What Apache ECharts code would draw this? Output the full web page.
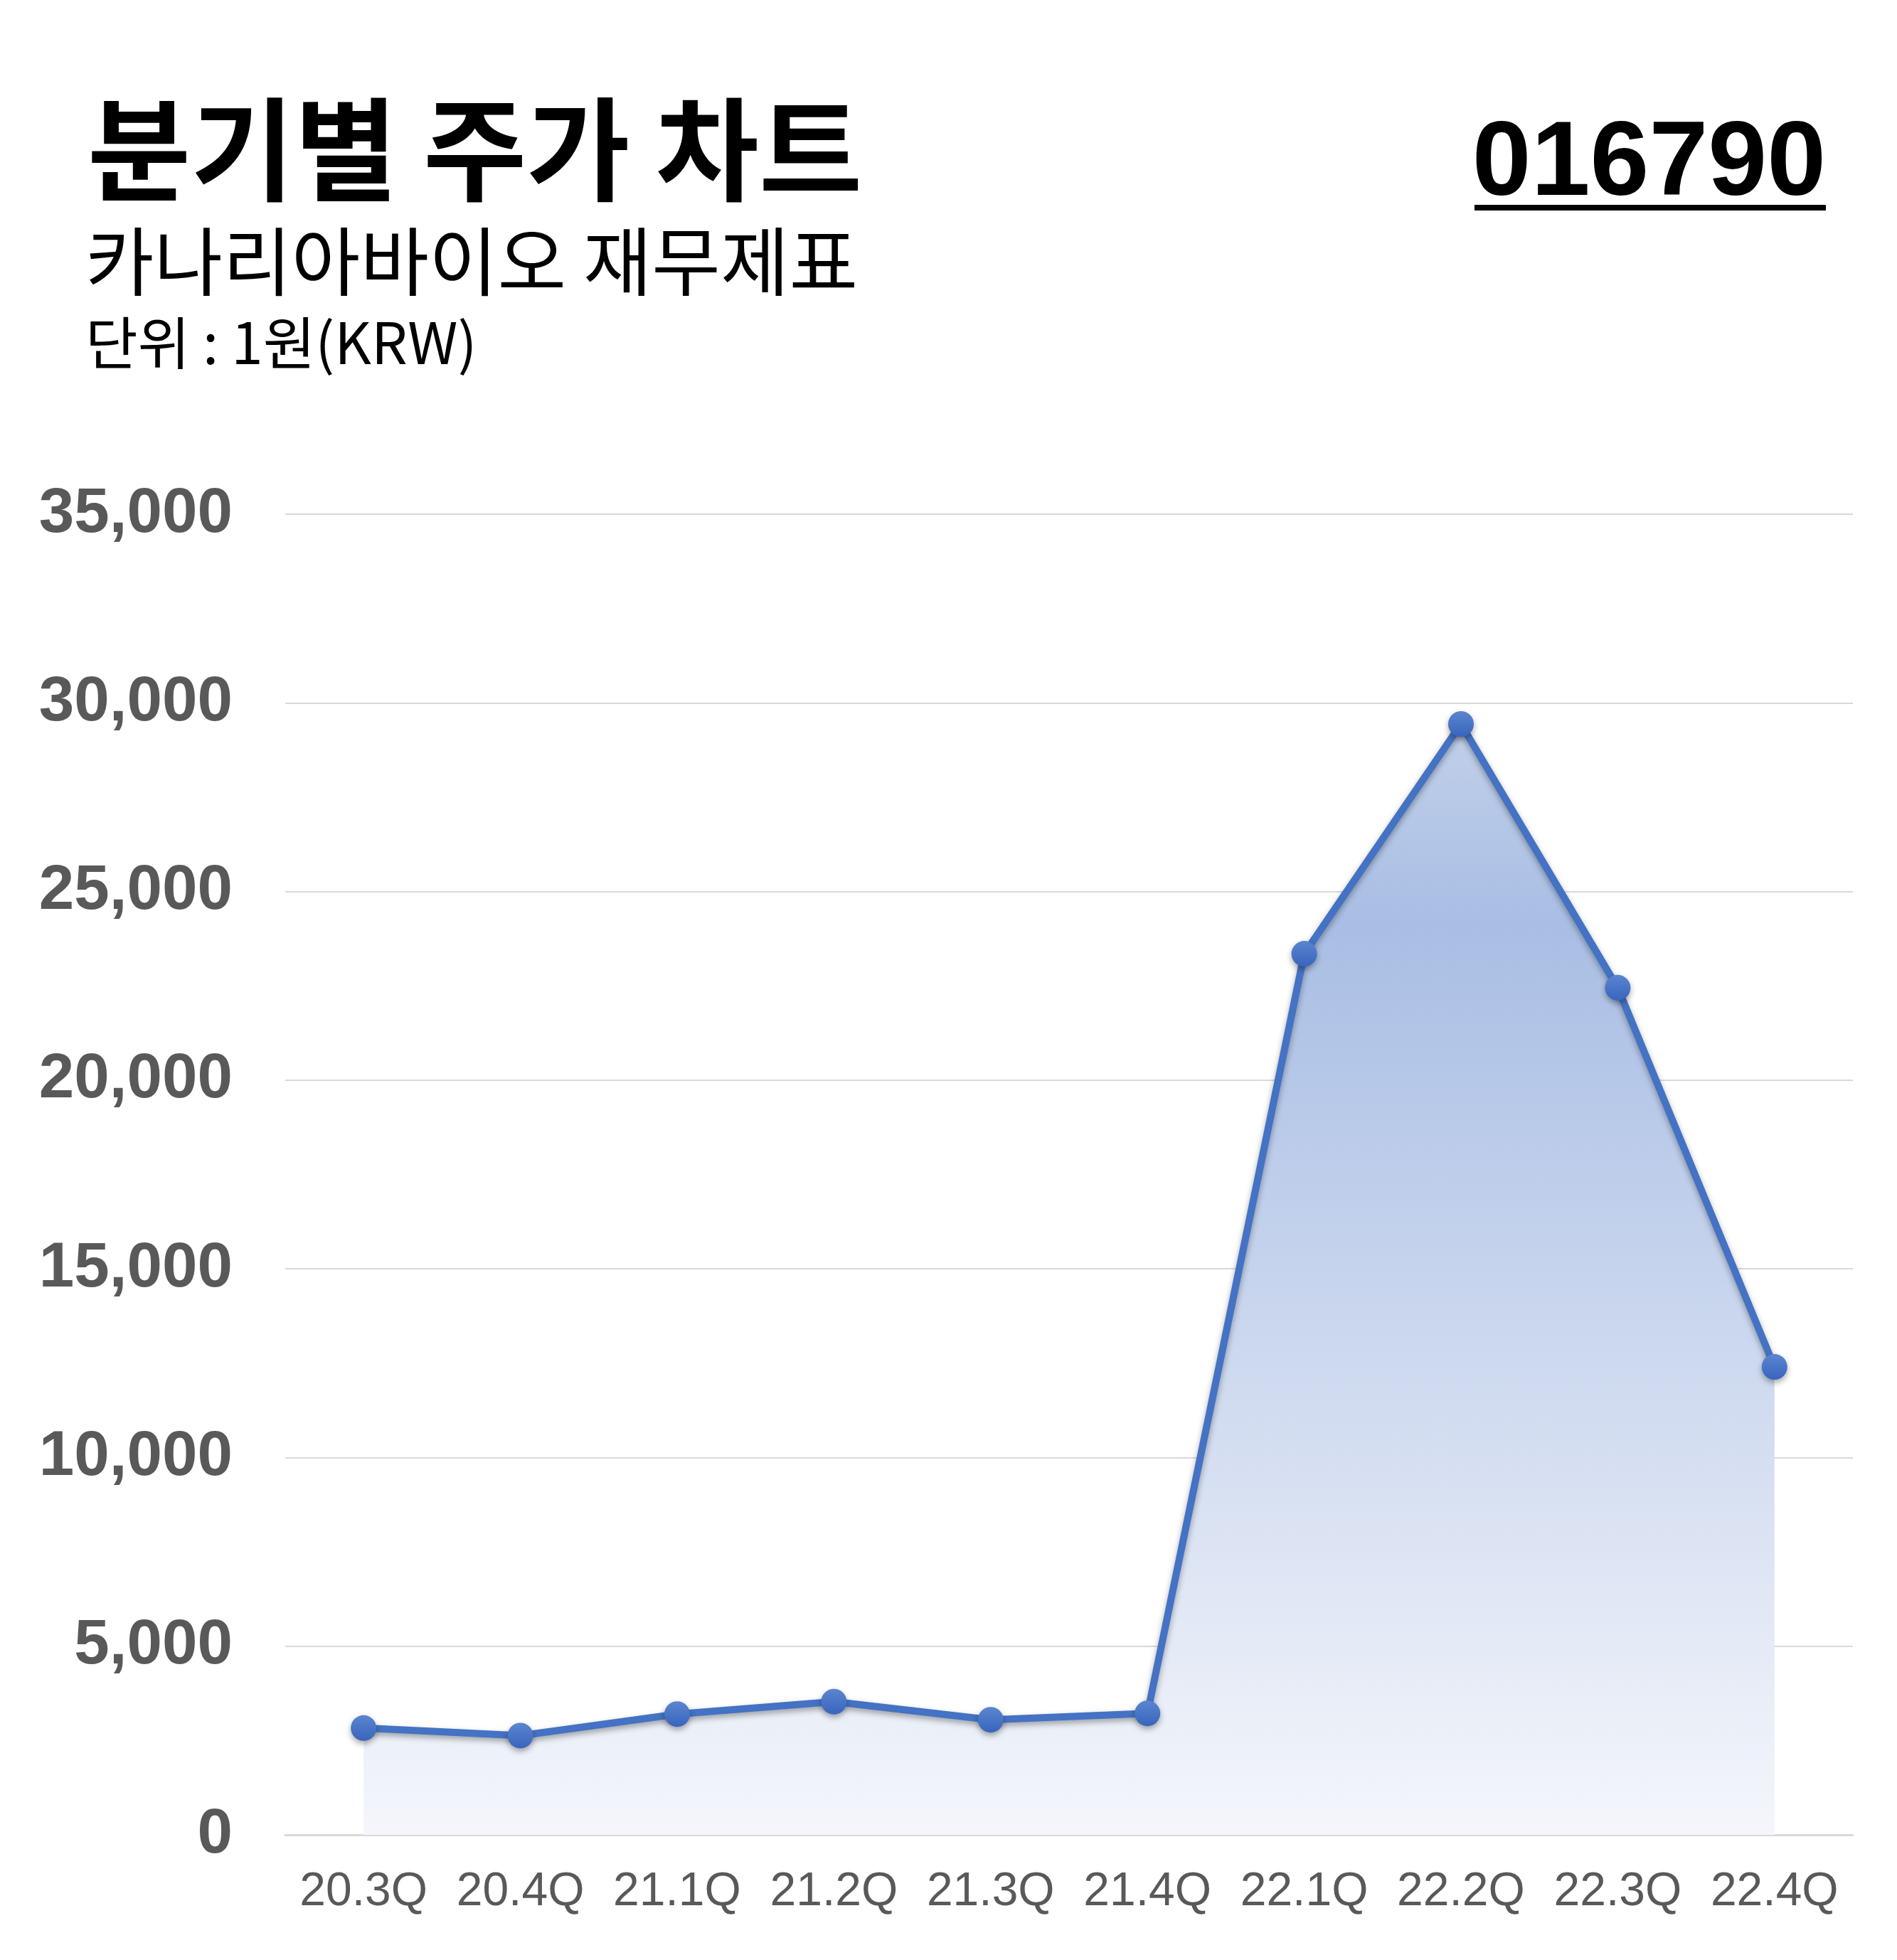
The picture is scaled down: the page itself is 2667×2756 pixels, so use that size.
<!DOCTYPE html>
<html>
<head>
<meta charset="utf-8">
<script src="https://cdn.jsdelivr.net/npm/echarts@6/dist/echarts.min.js"></script>
<style>
html,body{margin:0;padding:0;background:#fff;}
#chart{width:2667px;height:2756px;}
</style>
</head>
<body>
<div id="chart"></div>
<script>
const categories = ['20.3Q','20.4Q','21.1Q','21.2Q','21.3Q','21.4Q','22.1Q','22.2Q','22.3Q','22.4Q'];
const prices = [2830, 2630, 3200, 3530, 3050, 3220, 23350, 29440, 22450, 12400];
const yTicks = { min: 0, max: 35000, interval: 5000 };
const titleText = '분기별 주가 차트';
const subtitleText = '카나리아바이오 재무제표';
const unitText = '단위 : 1원(KRW)';
const codeText = '016790';

const chart = echarts.init(document.getElementById('chart'), null, {renderer:'canvas', devicePixelRatio:1});
const KR = '"Noto Sans CJK KR", "Noto Sans", sans-serif';
const LAT = '"Liberation Sans", Arial, sans-serif';

chart.setOption({
  backgroundColor: '#ffffff',
  animation: false,
  title: [
    { text: titleText, left: 118, top: 126, textStyle: { fontFamily: KR, fontSize: 158, fontWeight: 'bold', color: '#000' } },
    { text: subtitleText, left: 115, top: 310, textStyle: { fontFamily: KR, fontSize: 105, fontWeight: 'normal', color: '#000' } },
    { text: unitText, left: 115, top: 437, textStyle: { fontFamily: KR, fontSize: 80, fontWeight: 'normal', color: '#000' } },
    { text: codeText, right: 95, top: 153, textStyle: { fontFamily: LAT, fontSize: 149, fontWeight: 'bold', color: '#000' } }
  ],
  graphic: [
    { type: 'rect', shape: { x: 2073, y: 288, width: 494, height: 8 }, style: { fill: '#000' } }
  ],
  grid: { left: 401, right: 62, top: 723, bottom: 176, containLabel: false },
  xAxis: {
    type: 'category',
    data: categories,
    boundaryGap: true,
    axisLine: { show: true, lineStyle: { color: '#d9d9d9', width: 3 } },
    axisTick: { show: false },
    axisLabel: { interval: 0, fontFamily: LAT, fontSize: 66, color: '#595959', margin: 48 },
    splitLine: { show: false }
  },
  yAxis: {
    type: 'value',
    min: yTicks.min, max: yTicks.max, interval: yTicks.interval,
    axisLine: { show: false },
    axisTick: { show: false },
    axisLabel: {
      fontFamily: LAT, fontSize: 89, fontWeight: 'bold', color: '#595959', margin: 74,
      formatter: v => v.toLocaleString('en-US')
    },
    splitLine: { show: true, lineStyle: { color: '#d9d9d9', width: 2 } }
  },
  series: [{
    type: 'line',
    data: prices,
    symbol: 'circle',
    symbolSize: 36,
    z: 3,
    lineStyle: { color: '#4472C4', width: 10, shadowColor: 'rgba(0,0,0,0.35)', shadowBlur: 8, shadowOffsetY: 4 },
    itemStyle: {
      color: new echarts.graphic.LinearGradient(0, 0, 0, 1, [
        { offset: 0, color: '#5b85d0' },
        { offset: 1, color: '#3865bd' }
      ]),
      borderWidth: 0,
      shadowColor: 'rgba(0,0,0,0.35)', shadowBlur: 8, shadowOffsetY: 4
    },
    areaStyle: {
      color: new echarts.graphic.LinearGradient(0, 0, 0, 1, [
        { offset: 0, color: '#c1d0ea' },
        { offset: 0.18, color: '#a9bee4' },
        { offset: 1, color: '#f4f6fb' }
      ]),
      opacity: 1
    }
  }]
});
</script>
</body>
</html>
